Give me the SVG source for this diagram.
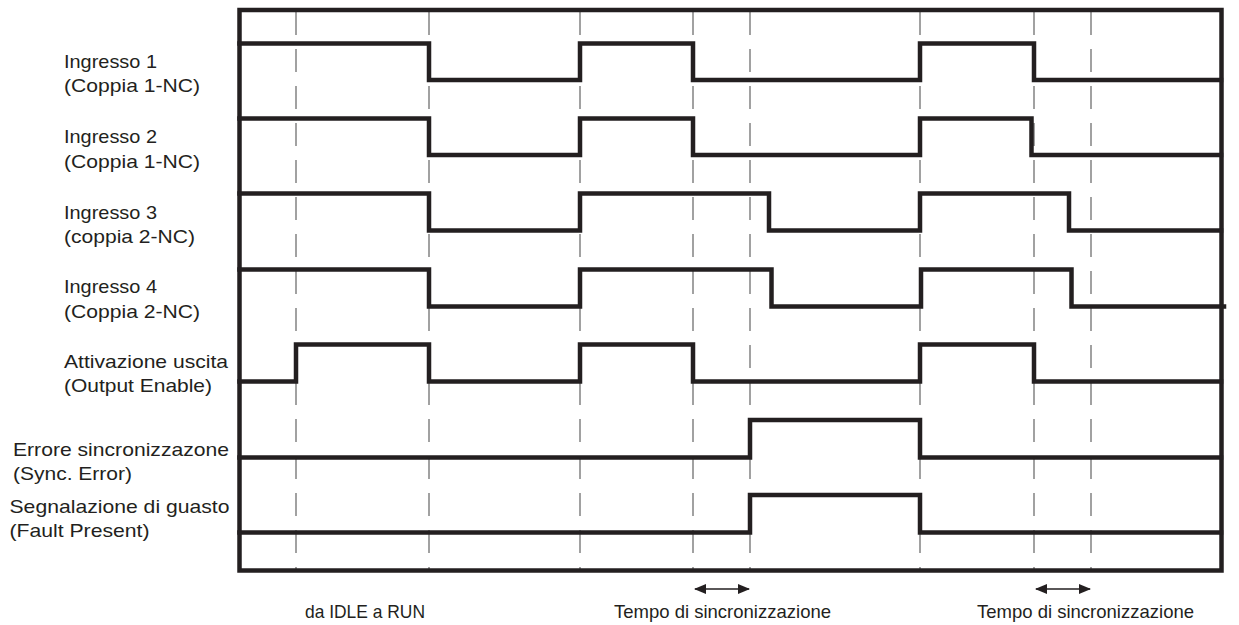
<svg xmlns="http://www.w3.org/2000/svg" width="1239" height="625" viewBox="0 0 1239 625">
<defs>
<style>
.lbl{font-family:"Liberation Sans",Arial,Helvetica,sans-serif;font-size:19px;fill:#231f20}
.cap{font-family:"Liberation Sans",Arial,Helvetica,sans-serif;font-size:18.5px;fill:#231f20}
.frame{fill:none;stroke:#231f20;stroke-width:4.5}
.wave{fill:none;stroke:#231f20;stroke-width:4.5;stroke-linejoin:miter;stroke-linecap:square}
.dash{stroke:#8a8a8a;stroke-width:1.6;stroke-dasharray:23 14}
.arr{stroke:#231f20;stroke-width:1.5;marker-start:url(#ah);marker-end:url(#ah)}
</style>
<marker id="ah" viewBox="0 0 12 10" refX="11" refY="5" markerWidth="12" markerHeight="10" markerUnits="userSpaceOnUse" orient="auto-start-reverse">
<path d="M0,0 L12,5 L0,10 Z" fill="#231f20"/>
</marker>
</defs>
<rect width="1239" height="625" fill="#fff"/>
<g id="grid">
<line class="dash" x1="296" y1="12" x2="296" y2="569"/>
<line class="dash" x1="429" y1="12" x2="429" y2="569"/>
<line class="dash" x1="580" y1="12" x2="580" y2="569"/>
<line class="dash" x1="693" y1="12" x2="693" y2="569"/>
<line class="dash" x1="750" y1="12" x2="750" y2="569"/>
<line class="dash" x1="920" y1="12" x2="920" y2="569"/>
<line class="dash" x1="1034" y1="12" x2="1034" y2="569"/>
<line class="dash" x1="1091" y1="12" x2="1091" y2="569"/>
</g>
<g id="frame"><rect class="frame" x="239.5" y="10" width="982" height="560.5"/></g>
<g id="signal-in1"><path class="wave" d="M239.5,43.5 H429 V80 H580 V43.5 H693 V80 H920 V43.5 H1034 V80 H1221"/>
<text class="lbl" x="64" y="67.5" textLength="93" lengthAdjust="spacingAndGlyphs">Ingresso 1</text>
<text class="lbl" x="64" y="92" textLength="136" lengthAdjust="spacingAndGlyphs">(Coppia 1-NC)</text></g>
<g id="signal-in2"><path class="wave" d="M239.5,118.5 H429 V155 H580 V118.5 H693 V155 H920 V118.5 H1031.5 V155 H1221"/>
<text class="lbl" x="64" y="143" textLength="93" lengthAdjust="spacingAndGlyphs">Ingresso 2</text>
<text class="lbl" x="64" y="167.5" textLength="136" lengthAdjust="spacingAndGlyphs">(Coppia 1-NC)</text></g>
<g id="signal-in3"><path class="wave" d="M239.5,193.5 H429 V230.5 H580 V193.5 H769 V230.5 H920 V193.5 H1069 V230.5 H1221"/>
<text class="lbl" x="64" y="218.5" textLength="93" lengthAdjust="spacingAndGlyphs">Ingresso 3</text>
<text class="lbl" x="64" y="243" textLength="131" lengthAdjust="spacingAndGlyphs">(coppia 2-NC)</text></g>
<g id="signal-in4"><path class="wave" d="M239.5,269.5 H429 V306.5 H580 V269.5 H771.5 V306.5 H921 V269.5 H1071.5 V306.5 H1224"/>
<text class="lbl" x="64" y="293" textLength="93" lengthAdjust="spacingAndGlyphs">Ingresso 4</text>
<text class="lbl" x="64" y="317.5" textLength="136" lengthAdjust="spacingAndGlyphs">(Coppia 2-NC)</text></g>
<g id="signal-oe"><path class="wave" d="M239.5,381.5 H296 V344.5 H429 V381.5 H580 V344.5 H693 V381.5 H920 V344.5 H1034 V381.5 H1221"/>
<text class="lbl" x="64" y="367.5" textLength="164" lengthAdjust="spacingAndGlyphs">Attivazione uscita</text>
<text class="lbl" x="64" y="392" textLength="148" lengthAdjust="spacingAndGlyphs">(Output Enable)</text></g>
<g id="signal-sync"><path class="wave" d="M239.5,457.5 H750 V420 H920 V457.5 H1221"/>
<text class="lbl" x="13" y="455.5" textLength="216" lengthAdjust="spacingAndGlyphs">Errore sincronizzazone</text>
<text class="lbl" x="13" y="479.5" textLength="119" lengthAdjust="spacingAndGlyphs">(Sync. Error)</text></g>
<g id="signal-fault"><path class="wave" d="M239.5,532.5 H750 V495 H920 V532.5 H1221"/>
<text class="lbl" x="9.5" y="513" textLength="220" lengthAdjust="spacingAndGlyphs">Segnalazione di guasto</text>
<text class="lbl" x="9.5" y="537" textLength="140" lengthAdjust="spacingAndGlyphs">(Fault Present)</text></g>
<g id="connectors">
<line class="arr" x1="695" y1="589" x2="749" y2="589"/>
<line class="arr" x1="1036" y1="589" x2="1090" y2="589"/>
</g>
<g id="captions">
<text class="cap" x="305" y="618" textLength="120" lengthAdjust="spacingAndGlyphs">da IDLE a RUN</text>
<text class="cap" x="614" y="618" textLength="217" lengthAdjust="spacingAndGlyphs">Tempo di sincronizzazione</text>
<text class="cap" x="977" y="618" textLength="217" lengthAdjust="spacingAndGlyphs">Tempo di sincronizzazione</text>
</g>
</svg>
